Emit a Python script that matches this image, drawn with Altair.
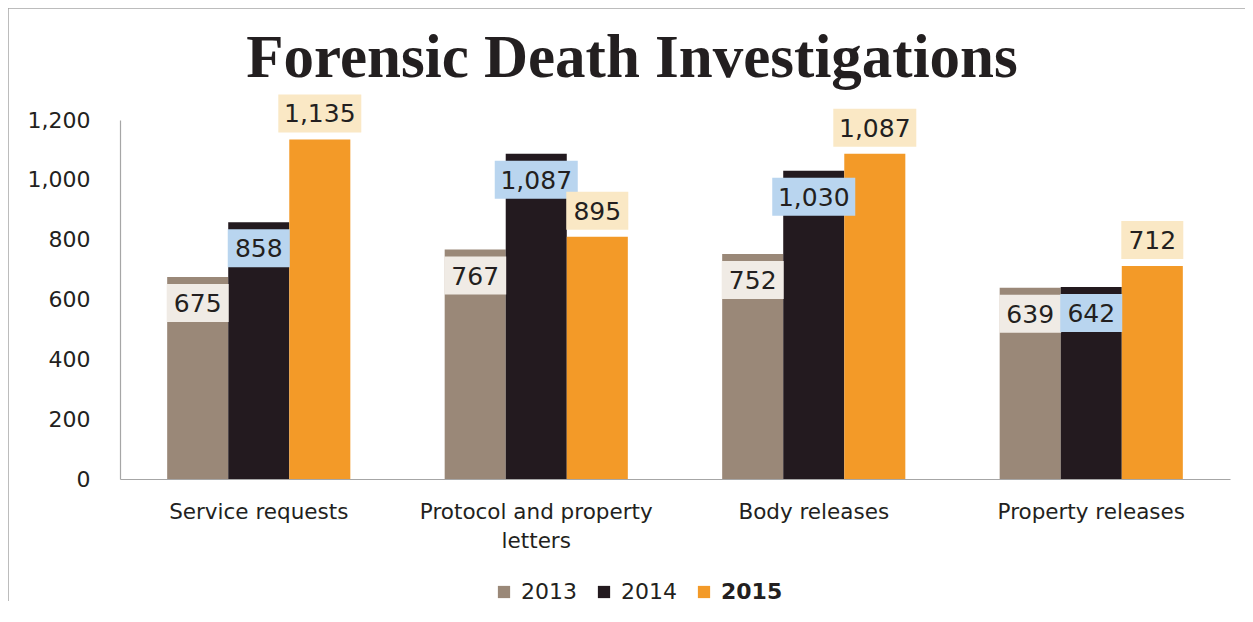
import altair as alt
import pandas as pd

categories = ["Service requests", "Protocol and property letters", "Body releases", "Property releases"]
years = ["2013", "2014", "2015"]
values_2013 = [675, 767, 752, 639]
values_2014 = [858, 1087, 1030, 642]
values_2015 = [1135, 810, 1087, 712]
labels_2013 = ["675", "767", "752", "639"]
labels_2014 = ["858", "1,087", "1,030", "642"]
labels_2015 = ["1,135", "895", "1,087", "712"]
y_ticks = [0, 200, 400, 600, 800, 1000, 1200]
title_text = "Forensic Death Investigations"

rows = []
for yr, vals, labs in zip(years, [values_2013, values_2014, values_2015],
                          [labels_2013, labels_2014, labels_2015]):
    for c, v, l in zip(categories, vals, labs):
        rows.append({"category": c, "year": yr, "value": v, "label": l})
df = pd.DataFrame(rows)

bar_colors = ["#9a8878", "#231a1f", "#f39a28"]
box_colors = ["#f0ebe5", "#b9d5ef", "#fae8c5"]
text_color = "#231f20"
axis_gray = "#a6a6a6"
FONT = "DejaVu Sans"

NARROW = "M-0.31,-0.19L0.31,-0.19L0.31,0.19L-0.31,0.19Z"
WIDE = "M-0.415,-0.19L0.415,-0.19L0.415,0.19L-0.415,0.19Z"

x_enc = alt.X(
    "category:N", sort=categories,
    scale=alt.Scale(paddingInner=0.34, paddingOuter=0.17),
    axis=alt.Axis(
        title=None, labelAngle=0, ticks=False, domainColor=axis_gray, domainWidth=1.2,
        labelFont=FONT, labelFontSize=21.5, labelColor=text_color, labelPadding=22,
        labelLimit=400, labelLineHeight=29, labelBaseline="top",
        labelExpr="datum.label == 'Protocol and property letters' ? ['Protocol and property', 'letters'] : datum.label",
    ),
)
xoff = alt.XOffset("year:N", sort=years)
y_enc = alt.Y(
    "value:Q", scale=alt.Scale(domain=[0, 1200], nice=False),
    axis=alt.Axis(
        title=None, values=y_ticks, format=",d", ticks=False, grid=False,
        domainColor=axis_gray, domainWidth=1.2, labelFont=FONT, labelFontSize=22,
        labelColor=text_color, labelPadding=30,
    ),
)

base = alt.Chart(df)

bars = base.mark_bar().encode(
    x=x_enc, xOffset=xoff, y=y_enc,
    color=alt.Color(
        "year:N", scale=alt.Scale(domain=years, range=bar_colors),
        legend=alt.Legend(
            title=None, orient="none", legendX=373, legendY=461, direction="horizontal",
            symbolType="square", symbolSize=150, symbolStrokeWidth=0, padding=0,
            labelFont=FONT, labelFontSize=22, labelColor=text_color, labelOffset=6,
            columnPadding=16, labelLimit=200,
            labelFontWeight={"expr": "datum.label == '2015' ? 'bold' : 'normal'"},
        ),
    ),
)

labeled = base.transform_calculate(
    shp=f"length(datum.label) > 3 ? '{WIDE}' : '{NARROW}'"
)

def box_layer(filt, yoff):
    return labeled.transform_filter(filt).mark_point(
        filled=True, opacity=1, size=40000, strokeWidth=0, yOffset=yoff
    ).encode(
        x=x_enc, xOffset=xoff, y=y_enc,
        shape=alt.Shape("shp:N", scale=None),
        fill=alt.Fill("year:N", scale=alt.Scale(domain=years, range=box_colors), legend=None),
    )

def text_layer(filt, dy):
    return base.transform_filter(filt).mark_text(
        font=FONT, fontSize=25, color=text_color, baseline="middle", dy=dy
    ).encode(x=x_enc, xOffset=xoff, y=y_enc, text="label:N")

low = "datum.year != '2015'"
high = "datum.year == '2015'"

one = alt.Chart(pd.DataFrame({"t": [title_text]}))
frame_v = one.mark_rule(color=axis_gray, strokeWidth=1.5).encode(
    x=alt.value(-112), y=alt.value(-112), y2=alt.value(510))
frame_h = one.mark_rule(color=axis_gray, strokeWidth=1.5).encode(
    y=alt.value(-112), x=alt.value(-112), x2=alt.value(1140))
title = one.mark_text(
    font="Liberation Serif", fontSize=61, fontWeight="bold", color=text_color,
    align="center", baseline="alphabetic",
).encode(x=alt.value(512), y=alt.value(-43), text="t:N")

chart = alt.layer(
    bars,
    box_layer(low, 26), box_layer(high, -26),
    text_layer(low, 27), text_layer(high, -25),
    frame_v, frame_h, title,
).resolve_scale(color="independent", fill="independent").properties(
    width=1110, height=359,
    autosize="none",
    padding={"left": 112, "top": 112, "right": 15, "bottom": 122},
).configure_view(stroke=None)

chart.save("out.html", embed_options={"renderer": "svg", "actions": False})
